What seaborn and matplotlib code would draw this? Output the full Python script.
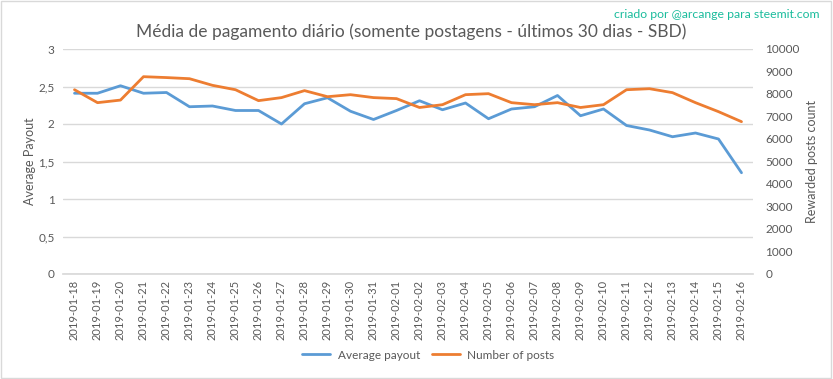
import matplotlib
matplotlib.use("Agg")
import matplotlib.pyplot as plt
import seaborn as sns
import pandas as pd
import numpy as np

dates = pd.date_range("2019-01-18", "2019-02-16").strftime("%Y-%m-%d").tolist()
avg_payout = [2.41, 2.41, 2.51, 2.41, 2.42, 2.23, 2.24, 2.18, 2.18, 2.00,
              2.27, 2.35, 2.17, 2.06, 2.18, 2.31, 2.19, 2.28, 2.07, 2.20,
              2.23, 2.38, 2.11, 2.20, 1.98, 1.92, 1.83, 1.88, 1.80, 1.35]
num_posts = [8190, 7615, 7730, 8770, 8730, 8680, 8385, 8190, 7705, 7840,
             8150, 7880, 7970, 7840, 7795, 7400, 7525, 7970, 8015, 7615,
             7525, 7615, 7400, 7525, 8190, 8235, 8060, 7615, 7215, 6770]
left_ticks = [0, 0.5, 1, 1.5, 2, 2.5, 3]
left_labels = ["0", "0,5", "1", "1,5", "2", "2,5", "3"]
right_ticks = list(range(0, 10001, 1000))

sns.set_theme(style="white")
plt.rcParams['font.family'] = ['Lato', 'DejaVu Sans']

df = pd.DataFrame({"idx": np.arange(len(dates)), "date": dates,
                   "payout": avg_payout, "posts": num_posts})

BLUE = "#5B9BD5"
ORANGE = "#ED7D31"
GRAY = "#595959"
GRID = "#D9D9D9"

fig = plt.figure(figsize=(8.33, 3.79), dpi=100)
ax = fig.add_axes([63/833, 1-274/379, (753-63)/833, (274-49)/379])
ax2 = ax.twinx()

sns.lineplot(data=df, x="idx", y="payout", ax=ax, color=BLUE, linewidth=2, label="Average payout", legend=False)
sns.lineplot(data=df, x="idx", y="posts", ax=ax2, color=ORANGE, linewidth=2, label="Number of posts", legend=False)

ax.set_xlim(-0.5, len(dates) - 0.5)
ax.set_ylim(0, 3)
ax2.set_ylim(0, 10000)
ax.set_yticks(left_ticks)
ax.set_yticklabels(left_labels)
ax2.set_yticks(right_ticks)
ax2.set_yticklabels([str(t) for t in right_ticks])
ax.set_xticks(df["idx"])
ax.set_xticklabels(dates, rotation=90)

ax.grid(axis="y", color=GRID, linewidth=1)
ax.set_axisbelow(True)
for a in (ax, ax2):
    for s in a.spines.values():
        s.set_visible(False)
    a.tick_params(length=0, colors=GRAY, labelsize=8.5)
ax.tick_params(axis="x", labelsize=8, pad=4)
ax.spines["bottom"].set_visible(True)
ax.spines["bottom"].set_color(GRID)
ax.tick_params(axis="y", pad=6)
ax2.tick_params(axis="y", pad=9)

ax.set_xlabel("")
ax.set_ylabel("Average Payout", color=GRAY, fontsize=9)
ax2.set_ylabel("Rewarded posts count", color=GRAY, fontsize=9)
ax.yaxis.set_label_coords(-0.039, 0.5)
ax2.yaxis.set_label_coords(1.077, 0.5)

fig.text(0.4935, 0.915, "Média de pagamento diário (somente postagens - últimos 30 dias - SBD)",
         ha="center", va="center", fontsize=12.5, color=GRAY)
fig.text(0.984, 0.962, "criado por @arcange para steemit.com", ha="right", va="center",
         fontsize=8.8, color="#1ABC9C")

h1, l1 = ax.get_legend_handles_labels()
h2, l2 = ax2.get_legend_handles_labels()
fig.legend(h1 + h2, l1 + l2, loc="center", bbox_to_anchor=(0.514, 0.063), ncol=2,
           frameon=False, fontsize=8.5, labelcolor=GRAY, handlelength=2.4,
           handletextpad=0.6, columnspacing=1.0)

fig.patches.append(plt.Rectangle((0.001, 0.002), 0.997, 0.995, transform=fig.transFigure,
                                 fill=False, edgecolor="#D9D9D9", linewidth=1))
fig.savefig("out.png", dpi=100, facecolor="white")
